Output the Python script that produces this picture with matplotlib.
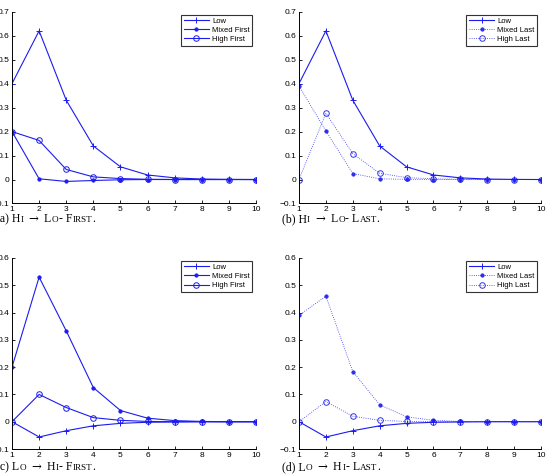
import matplotlib
matplotlib.use("Agg")
import matplotlib.pyplot as plt
import numpy as np

plt.rcParams["mathtext.fontset"] = "dejavuserif"

x = [1, 2, 3, 4, 5, 6, 7, 8, 9, 10]

# (a) Hi -> Lo, First
a_low = [0.40, 0.62, 0.331, 0.140, 0.053, 0.019, 0.007, 0.002, 0.0005, 0.0]
a_mixed = [0.20, 0.003, -0.008, -0.004, -0.001, 0.0, 0.0, 0.0, 0.0, 0.0]
a_high = [0.20, 0.163, 0.042, 0.011, 0.004, 0.001, 0.0, 0.0, 0.0, 0.0]

# (b) Hi -> Lo, Last
b_low = [0.40, 0.62, 0.331, 0.140, 0.053, 0.019, 0.007, 0.002, 0.0005, 0.0]
b_mixed = [0.39, 0.203, 0.025, 0.003, 0.001, 0.0, 0.0, 0.0, 0.0, 0.0]
b_high = [0.0, 0.276, 0.108, 0.026, 0.008, 0.003, 0.001, 0.0, 0.0, 0.0]

# (c) Lo -> Hi, First
c_low = [0.0, -0.056, -0.033, -0.015, -0.006, -0.002, -0.001, 0.0, 0.0, 0.0]
c_mixed = [0.20, 0.530, 0.333, 0.125, 0.041, 0.013, 0.004, 0.001, 0.0, 0.0]
c_high = [0.0, 0.100, 0.052, 0.015, 0.005, 0.001, 0.0, 0.0, 0.0, 0.0]

# (d) Lo -> Hi, Last
d_low = [0.0, -0.056, -0.033, -0.015, -0.006, -0.002, -0.001, 0.0, 0.0, 0.0]
d_mixed = [0.39, 0.46, 0.184, 0.062, 0.018, 0.005, 0.001, 0.0, 0.0, 0.0]
d_high = [0.0, 0.074, 0.020, 0.005, 0.001, 0.0, 0.0, 0.0, 0.0, 0.0]

ARROW = r" $\rightarrow$ "
captions = [
    [("(a) H", 1), ("I", 0), (ARROW + "L", 1), ("O", 0), ("- F", 1), ("IRST", 0), (".", 1)],
    [("(b) H", 1), ("I", 0), (ARROW + "L", 1), ("O", 0), ("- L", 1), ("AST", 0), (".", 1)],
    [("(c) L", 1), ("O", 0), (ARROW + "H", 1), ("I", 0), ("- F", 1), ("IRST", 0), (".", 1)],
    [("(d) L", 1), ("O", 0), (ARROW + "H", 1), ("I", 0), ("- L", 1), ("AST", 0), (".", 1)],
]

BLUE = "#1c1cf0"
W, H = 556, 474
fig = plt.figure(figsize=(W / 100, H / 100), dpi=100)

def px_axes(l, t, r, b):
    return fig.add_axes([l / W, 1 - b / H, (r - l) / W, (b - t) / H])

panels = [
    (px_axes(12, 11.7, 256, 203.5), a_low, a_mixed, a_high, "First", (-0.1, 0.7)),
    (px_axes(299, 11.7, 541, 203.5), b_low, b_mixed, b_high, "Last", (-0.1, 0.7)),
    (px_axes(12, 258, 256, 449), c_low, c_mixed, c_high, "First", (-0.1, 0.6)),
    (px_axes(299, 258, 541, 449), d_low, d_mixed, d_high, "Last", (-0.1, 0.6)),
]

sans = ["Liberation Sans", "DejaVu Sans"]

for ax, low, mixed, high, kind, ylim in panels:
    ax.plot(x, low, color=BLUE, lw=0.8, marker="+", ms=4, mew=0.7, label="Low")
    if kind == "First":
        ax.plot(x, mixed, color=BLUE, lw=0.8, marker="o", ms=2.5, mew=0.5,
                label="Mixed First")
        ax.plot(x, high, color=BLUE, lw=0.8, marker="o", ms=4, mfc="none",
                mew=0.7, label="High First")
    else:
        ax.plot(x, mixed, color=BLUE, lw=0.6, ls=":", marker="o", ms=2.5,
                mew=0.5, label="Mixed Last", alpha=0.9)
        ax.plot(x, high, color=BLUE, lw=0.6, ls=":", marker="o", ms=4,
                mfc="none", mew=0.7, label="High Last", alpha=0.9)
    ax.set_xlim(1, 10)
    ax.set_ylim(*ylim)
    ax.set_xticks(x)
    yt = np.round(np.arange(ylim[0], ylim[1] + 0.001, 0.1), 1)
    ax.set_yticks(yt)
    ax.set_yticklabels([("%g" % v).replace("-", "\u2212") for v in yt])
    for lab in ax.get_xticklabels() + ax.get_yticklabels():
        lab.set_fontfamily(sans)
        lab.set_fontsize(6)
    ax.tick_params(direction="in", length=2.5, width=0.6, pad=2)
    ax.spines["top"].set_visible(False)
    ax.spines["right"].set_visible(False)
    ax.spines["left"].set_linewidth(0.7)
    ax.spines["bottom"].set_linewidth(0.7)
    leg = ax.legend(loc="upper right", bbox_to_anchor=(0.985, 0.985),
                    borderaxespad=0, prop=dict(family=sans, size=5.5),
                    fancybox=False, edgecolor="#333333", framealpha=1,
                    handlelength=3.3, handletextpad=0.4, labelspacing=0.25,
                    borderpad=0.35)
    leg.get_frame().set_linewidth(0.8)

# small-caps captions
renderer = fig.canvas.get_renderer()
cap_pos = [(-4, 222), (282, 222), (-4, 470), (282, 470)]
serif = ["Liberation Serif", "DejaVu Serif"]
for pieces, (cx, cy) in zip(captions, cap_pos):
    xx = cx
    for s, big in pieces:
        t = fig.text(xx / W, 1 - cy / H, s, family=serif,
                     size=8.5 if big else 6.6, ha="left", va="baseline")
        bb = t.get_window_extent(renderer)
        xx += bb.width

fig.savefig("out.png", dpi=100)
